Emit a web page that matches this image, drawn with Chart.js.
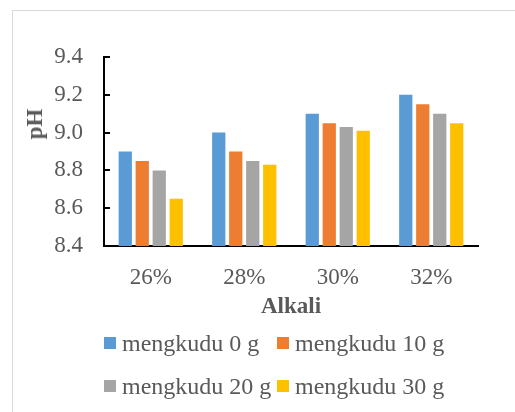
<!DOCTYPE html>
<html>
<head>
<meta charset="utf-8">
<script src="https://cdn.jsdelivr.net/npm/chart.js@4"></script>
<style>
  html, body { margin: 0; padding: 0; background: #fff; overflow: hidden; }
  #wrap { position: relative; width: 515px; height: 412px; font-family: "Liberation Serif", "Times New Roman", serif; color: #595959; }
  #frame { position: absolute; left: 12px; top: 10px; width: 600px; height: 500px; border: 1px solid #d9d9d9; }
  #chart { position: absolute; left: 0; top: 0; }
  #ytitle { position: absolute; left: 35px; top: 124px; transform: translate(-50%, -50%) rotate(-90deg); font-weight: bold; font-size: 23px; white-space: nowrap; }
  .leg { position: absolute; font-size: 24px; white-space: nowrap; line-height: 1; }
  .leg span { position: absolute; width: 12px; height: 12px; left: 0; top: 50%; margin-top: -6px; }
  .leg b { font-weight: normal; position: absolute; left: 18px; top: 50%; transform: translateY(-52%); }
</style>
</head>
<body>
<div id="wrap">
  <div id="frame"></div>
  <canvas id="chart" width="515" height="412"></canvas>
  <div id="ytitle">pH</div>
  <div id="legend"></div>
</div>
<script>
const categories = ['26%', '28%', '30%', '32%'];
const seriesNames = ['mengkudu 0 g', 'mengkudu 10 g', 'mengkudu 20 g', 'mengkudu 30 g'];
const seriesColors = ['#5B9BD5', '#ED7D31', '#A5A5A5', '#FFC000'];
const mengkudu0 = [8.90, 9.00, 9.10, 9.20];
const mengkudu10 = [8.85, 8.90, 9.05, 9.15];
const mengkudu20 = [8.80, 8.85, 9.03, 9.10];
const mengkudu30 = [8.65, 8.83, 9.01, 9.05];
const seriesValues = [mengkudu0, mengkudu10, mengkudu20, mengkudu30];

const textColor = '#595959';
const serif = '"Liberation Serif", "Times New Roman", serif';

new Chart(document.getElementById('chart'), {
  type: 'bar',
  data: {
    labels: categories,
    datasets: seriesNames.map((name, i) => ({
      label: name,
      data: seriesValues[i],
      backgroundColor: seriesColors[i],
      barPercentage: 0.78,
      categoryPercentage: 0.727
    }))
  },
  options: {
    responsive: false,
    animation: false,
    layout: { padding: { left: 0, right: 37, top: 57, bottom: 90 } },
    plugins: {
      legend: { display: false },
      tooltip: { enabled: false }
    },
    scales: {
      x: {
        grid: { display: false },
        border: { color: '#000', width: 2 },
        ticks: { color: textColor, padding: 10, font: { family: serif, size: 23 } },
        title: {
          display: true,
          text: 'Alkali',
          color: textColor,
          padding: { top: 0, bottom: 1 },
          font: { family: serif, size: 23, weight: 'bold' }
        },
        afterFit: scale => { scale.height = 76; }
      },
      y: {
        min: 8.4,
        max: 9.4,
        grid: { drawOnChartArea: false, drawTicks: true, tickLength: -6, color: '#000', lineWidth: 2 },
        border: { color: '#000', width: 2 },
        ticks: {
          stepSize: 0.2,
          padding: 27,
          color: textColor,
          font: { family: serif, size: 23 },
          callback: v => v.toFixed(1)
        },
        afterFit: scale => { scale.width = 104; }
      }
    }
  }
});

// legend laid out in two aligned columns
const legendPos = [[104, 343], [277, 343], [104, 386], [277, 386]];
const legendEl = document.getElementById('legend');
seriesNames.forEach((name, i) => {
  const item = document.createElement('div');
  item.className = 'leg';
  item.style.left = legendPos[i][0] + 'px';
  item.style.top = legendPos[i][1] + 'px';
  item.innerHTML = '<span style="background:' + seriesColors[i] + '"></span><b>' + name + '</b>';
  legendEl.appendChild(item);
});
</script>
</body>
</html>
